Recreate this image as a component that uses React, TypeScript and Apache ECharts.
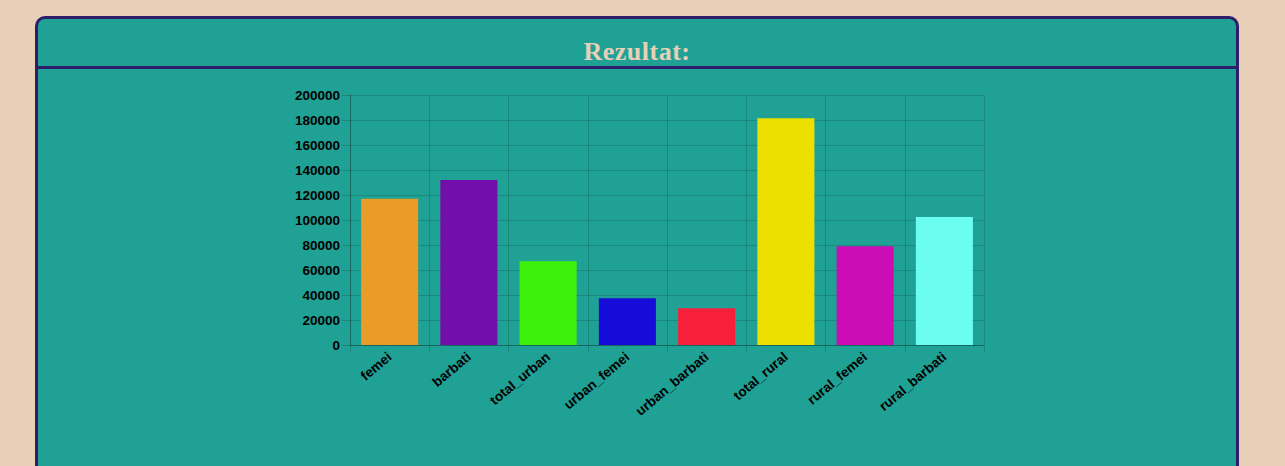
import React, { useEffect, useRef } from "react";
import * as echarts from "echarts";

const categories = ["femei", "barbati", "total_urban", "urban_femei", "urban_barbati", "total_rural", "rural_femei", "rural_barbati"];
const values = [117000, 132000, 67000, 37500, 29500, 181500, 79000, 102500];
const barColors = ["#e99c26", "#720eaa", "#3cf20a", "#150cd8", "#f7203c", "#ede000", "#cc0cb4", "#6bfdef"];
const yMax = 200000;
const yStep = 20000;

export default function App() {
  const ref = useRef<HTMLDivElement>(null);
  useEffect(() => {
    document.body.style.background = "#e8cfb8";
    document.body.style.margin = "0";
    document.body.style.overflow = "hidden";
    const chart = echarts.init(ref.current!, null, { renderer: "svg" });
    const font = "'Liberation Sans', Arial, sans-serif";
    chart.setOption({
      animation: false,
      grid: { left: 350, top: 95, width: 634, height: 250, containLabel: false },
      xAxis: {
        type: "category",
        data: categories,
        boundaryGap: true,
        axisLine: { show: true, lineStyle: { color: "rgba(0,0,0,0.25)", width: 1 } },
        axisTick: { show: true, length: 8, alignWithLabel: false, lineStyle: { color: "rgba(0,0,0,0.15)" } },
        splitLine: { show: true, lineStyle: { color: "rgba(0,0,0,0.15)" } },
        axisLabel: {
          rotate: 40,
          interval: 0,
          margin: 10,
          color: "#000",
          fontFamily: font,
          fontWeight: "bold",
          fontSize: 13.5,
        },
      },
      yAxis: {
        type: "value",
        min: 0,
        max: yMax,
        interval: yStep,
        axisLine: { show: true, lineStyle: { color: "rgba(0,0,0,0.25)" } },
        axisTick: { show: true, length: 8, lineStyle: { color: "rgba(0,0,0,0.15)" } },
        splitLine: { show: true, lineStyle: { color: "rgba(0,0,0,0.15)" } },
        axisLabel: {
          margin: 10,
          color: "#000",
          fontFamily: font,
          fontWeight: "bold",
          fontSize: 13.5,
          formatter: (v: number) => String(v),
        },
      },
      series: [
        {
          type: "bar",
          barWidth: "72%",
          data: values.map((v, i) => ({ value: v, itemStyle: { color: barColors[i] } })),
        },
      ],
    });
    return () => chart.dispose();
  }, []);

  return (
    <div style={{ position: "fixed", left: 0, top: 0, width: 1285, height: 466, overflow: "hidden", background: "#e8cfb8" }}>
      <div
        style={{
          position: "absolute",
          left: 35,
          top: 16,
          width: 1204,
          height: 520,
          boxSizing: "border-box",
          border: "3px solid #2d1e6b",
          borderRadius: 10,
          background: "#20a195",
        }}
      />
      <div style={{ position: "absolute", left: 38, top: 66, width: 1198, height: 3, background: "#2d1e6b" }} />
      <div
        style={{
          position: "absolute",
          left: 35,
          width: 1204,
          top: 39,
          textAlign: "center",
          fontFamily: "'Liberation Serif', serif",
          fontWeight: "bold",
          fontSize: 26,
          lineHeight: "26px",
          letterSpacing: "0.5px",
          color: "#e8cfb8",
        }}
      >
        Rezultat:
      </div>
      <div ref={ref} style={{ position: "absolute", left: 0, top: 0, width: 1285, height: 466 }} />
    </div>
  );
}
